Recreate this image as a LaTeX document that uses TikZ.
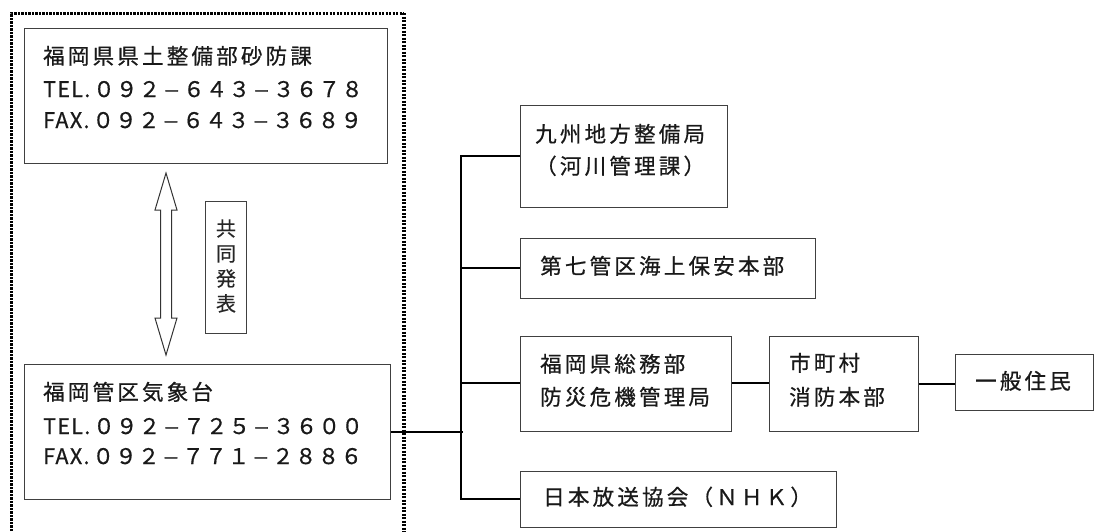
\documentclass[tikz,border=0pt]{standalone}
\usepackage{fontspec}
\newfontfamily\jpk[LetterSpace=15,FakeBold=0.7]{Noto Sans CJK JP}
\newfontfamily\jpd[LetterSpace=6,FakeBold=0.7]{Noto Sans CJK JP}
\newfontfamily\jpv[FakeBold=0.4]{Noto Sans CJK JP}
\newcommand\dsh{\hbox to 22.8pt{\hss\scalebox{1.3}[1]{–}\hss}}
\begin{document}
\begin{tikzpicture}[x=1pt,y=-1pt,
  box/.style={draw=black!75, line width=1.1pt, rectangle, inner sep=0pt, anchor=north west},
  txt/.style={anchor=west, inner sep=0pt, text height=17pt, text depth=3pt, text=black!90, font=\fontsize{21.5}{24}\jpk},
  num/.style={txt, font=\fontsize{21.5}{24}\jpd},
  link/.style={draw=black, line width=1.6pt},
  frame/.style={draw=black, dash pattern=on 2.2pt off 1.3pt}
]
\useasboundingbox (0,0) rectangle (1094,531);
% outer dotted frame
\coordinate (f1) at (11,13);
\coordinate (f2) at (404,13);
\coordinate (f3) at (11,545);
\coordinate (f4) at (404,545);
\draw[frame, line width=3pt] (f3) -- (f1) -- (f2);
\draw[frame, line width=4.2pt] (f2) -- (f4);
% left boxes
\node[box, minimum width=363pt, minimum height=135pt] (b1) at (24,28) {};
\node[txt] (b1a) at (43,57) {福岡県県土整備部砂防課};
\node[num] (b1b) at (43,90) {TEL.\kern3pt ０９２\dsh ６４３\dsh ３６７８};
\node[num] (b1c) at (43,121) {FAX.\kern3pt ０９２\dsh ６４３\dsh ３６８９};
\node[box, minimum width=366pt, minimum height=135pt] (b2) at (24,364) {};
\node[txt] (b2a) at (43,393) {福岡管区気象台};
\node[num] (b2b) at (43,427) {TEL.\kern3pt ０９２\dsh ７２５\dsh ３６００};
\node[num] (b2c) at (43,457) {FAX.\kern3pt ０９２\dsh ７７１\dsh ２８８６};
% double arrow
\draw[draw=black!80, line width=1pt, fill=white]
  (166,173) -- (177,210) -- (171.5,210) -- (171.5,318) -- (177,318) -- (166,355)
  -- (155,318) -- (160.5,318) -- (160.5,210) -- (155,210) -- cycle;
\node[box, minimum width=41pt, minimum height=132pt] (kb) at (205,201) {};
\node[align=center, inner sep=0pt, text=black!85, font=\fontsize{20}{25}\jpv] (kt) at (226,266) {共\\同\\発\\表};
% right boxes
\node[box, minimum width=207pt, minimum height=102pt] (r1) at (520,105) {};
\node[txt] (r1a) at (535,135) {九州地方整備局};
\node[txt] (r1b) at (535,167) {（河川管理課）};
\node[box, minimum width=295pt, minimum height=60pt] (r2) at (520,238) {};
\node[txt] (r2a) at (540,267) {第七管区海上保安本部};
\node[box, minimum width=211pt, minimum height=95pt] (r3) at (520,336) {};
\node[txt] (r3a) at (540,365) {福岡県総務部};
\node[txt] (r3b) at (540,398) {防災危機管理局};
\node[box, minimum width=149pt, minimum height=95pt] (r4) at (769,336) {};
\node[txt] (r4a) at (789,364) {市町村};
\node[txt] (r4b) at (789,398) {消防本部};
\node[box, minimum width=138pt, minimum height=56pt] (r5) at (955,354) {};
\node[txt] (r5a) at (975,382) {一般住民};
\node[box, minimum width=316pt, minimum height=56pt] (r6) at (520,471) {};
\node[txt] (r6a) at (543,498) {日本放送協会（ＮＨＫ）};
% connectors
\coordinate (bt) at (461,156);
\coordinate (bb) at (461,499);
\coordinate (bj) at (463,432);
\draw[link] (r1.west |- bt) -- (bt) -- (bb) -- (bb -| r6.west);
\draw[link] (b2.east |- bj) -- (bj);
\draw[link] (461,268) -- (r2.west |- 0,268);
\draw[link] (461,383) -- (r3.west |- 0,383);
\draw[line width=1.3pt] (r3.east |- 0,383) -- (r4.west |- 0,383);
\draw[line width=2pt] (r4.east |- 0,384) -- (r5.west |- 0,384);
\end{tikzpicture}
\end{document}
